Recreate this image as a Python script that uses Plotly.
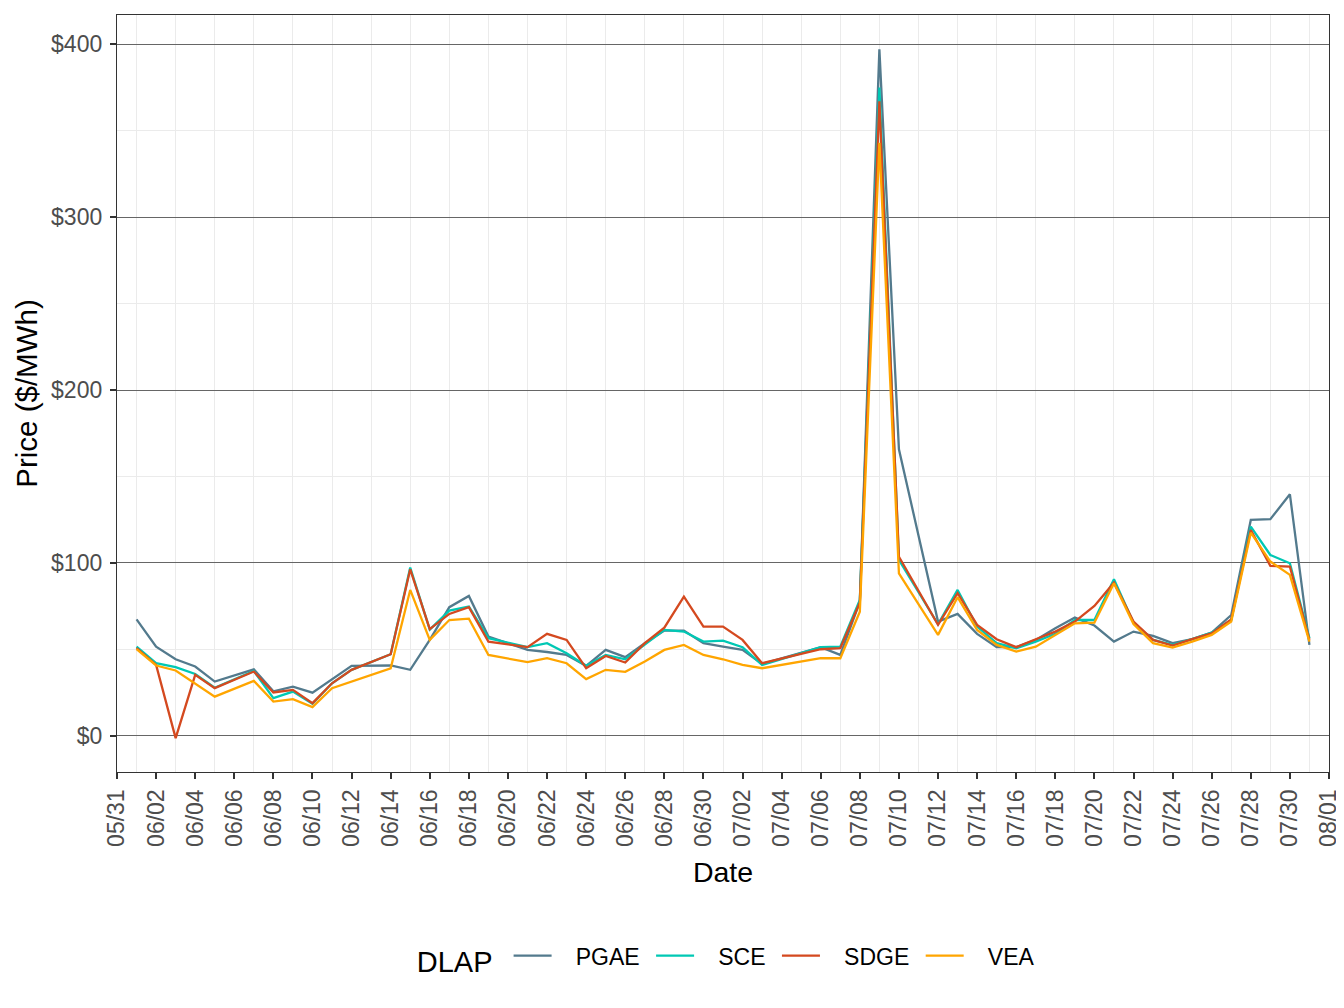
import plotly.graph_objects as go
import datetime as dt

YEAR = 2023
# dates with observations (MM/DD)
dates_md = ["06/01", "06/02", "06/03", "06/04", "06/05", "06/07", "06/08", "06/09", "06/10",
            "06/11", "06/12", "06/14", "06/15", "06/16", "06/17", "06/18", "06/19", "06/21",
            "06/22", "06/23", "06/24", "06/25", "06/26", "06/27", "06/28", "06/29", "06/30",
            "07/01", "07/02", "07/03", "07/06", "07/07", "07/08", "07/09", "07/10", "07/12",
            "07/13", "07/14", "07/15", "07/16", "07/17", "07/18", "07/19", "07/20", "07/21",
            "07/22", "07/23", "07/24", "07/25", "07/26", "07/27", "07/28", "07/29", "07/30",
            "07/31"]

pgae = [67.4, 51.6, 44.3, 40.1, 31.4, 38.5, 25.8, 28.5, 25.0, 32.5, 40.5, 40.7, 38.2, 55.5,
        74.4, 80.9, 57.4, 49.7, 48.5, 46.8, 40.5, 49.7, 45.5, 53.6, 60.9, 60.9, 53.6, 51.6,
        49.7, 41.6, 51.3, 46.8, 77.6, 397.0, 165.7, 66.1, 70.5, 59.0, 51.3, 51.3, 55.5, 62.2,
        68.4, 63.8, 54.5, 60.3, 57.8, 53.6, 55.9, 59.7, 69.9, 124.9, 125.3, 139.7, 52.6]

sce = [51.6, 42.0, 39.7, 35.8, 27.8, 37.5, 21.8, 25.6, 18.6, 30.4, 38.2, 47.2, 97.3, 61.5,
       72.4, 74.8, 56.5, 51.3, 53.6, 47.8, 40.5, 46.8, 44.3, 52.6, 61.3, 60.3, 54.5, 55.1,
       51.3, 41.0, 51.3, 51.6, 78.6, 375.0, 101.7, 64.5, 84.4, 63.2, 53.6, 50.7, 54.5, 59.0,
       67.0, 67.0, 90.6, 65.5, 55.5, 52.6, 55.9, 59.7, 67.0, 121.0, 104.6, 99.8, 56.5]

sdge = [50.7, 41.0, -1.3, 35.3, 27.6, 37.2, 25.1, 26.6, 18.9, 30.4, 38.2, 47.2, 96.3, 61.7,
        70.5, 74.4, 54.5, 51.3, 59.0, 55.5, 39.1, 46.2, 42.4, 53.6, 62.6, 80.5, 63.2, 63.2,
        55.5, 42.0, 50.1, 50.7, 77.1, 367.0, 103.6, 64.2, 82.5, 64.2, 55.9, 51.3, 55.9, 60.3,
        66.1, 75.1, 88.6, 66.1, 55.5, 52.2, 55.9, 59.3, 67.4, 119.1, 98.3, 97.9, 55.5]

vea = [50.1, 40.7, 37.8, 30.4, 22.7, 31.8, 19.8, 21.2, 16.6, 27.6, 31.5, 39.1, 84.4, 55.5,
       67.0, 67.8, 46.8, 42.6, 44.9, 42.0, 32.8, 38.2, 37.0, 43.0, 49.7, 52.6, 46.8, 44.3,
       41.0, 39.1, 44.9, 44.9, 71.8, 343.0, 94.0, 58.4, 80.2, 61.3, 52.6, 48.7, 51.6, 58.4,
       65.1, 65.5, 88.2, 64.7, 53.6, 51.1, 54.5, 58.4, 66.1, 117.5, 100.8, 93.1, 54.5]

series_names = ["PGAE", "SCE", "SDGE", "VEA"]
series_vals = [pgae, sce, sdge, vea]
series_colors = ["#537A8D", "#00C8B4", "#D4491F", "#FFA500"]

y_ticks = [0, 100, 200, 300, 400]

dates = [f"{YEAR}-{md[:2]}-{md[3:]}" for md in dates_md]

start = dt.date(YEAR, 5, 31)
end = dt.date(YEAR, 8, 1)
ndays = (end - start).days
x_major = [(start + dt.timedelta(days=i)).isoformat() for i in range(0, ndays + 1, 2)]
DAY_MS = 86400000

NB = "\u00a0"
fig = go.Figure()
for name, vals, col in zip(series_names, series_vals, series_colors):
    fig.add_trace(go.Scatter(x=dates, y=vals, mode="lines", name=NB * 3 + name + NB,
                             line=dict(color=col, width=2.3)))

FONT = "Liberation Sans, Arial, sans-serif"
# the page body adds an 8px offset, so the margins are shifted to compensate
fig.update_layout(
    width=1336, height=992,
    margin=dict(l=109, r=15, t=7, b=228),
    paper_bgcolor="white", plot_bgcolor="white",
    font=dict(family=FONT, color="black"),
    showlegend=True,
    legend=dict(orientation="h", x=0.506, xanchor="center", y=-0.246, yanchor="middle",
                title=dict(text="DLAP" + NB, side="left", font=dict(size=29, color="black")),
                font=dict(size=23, color="black"), itemwidth=38,
                bgcolor="rgba(0,0,0,0)"),
)
fig.update_xaxes(
    type="date", range=[start.isoformat(), end.isoformat() + " 00:00:30"], automargin=False,
    tickmode="array", tickvals=x_major, tickformat="%m/%d", tickangle=-90,
    tickfont=dict(size=23, color="#4D4D4D"), ticklabelstandoff=1,
    ticks="outside", ticklen=6, tickwidth=1.5, tickcolor="#333333",
    showgrid=False, zeroline=False,
    showline=True, mirror=True, linecolor="#333333", linewidth=1.3,
    minor=dict(tick0=f"{YEAR}-06-01", dtick=2 * DAY_MS, showgrid=True, gridcolor="#EBEBEB",
               gridwidth=1.2, ticks=""),
    title=dict(text="Date", font=dict(size=28.5, color="black"), standoff=16),
)
fig.update_yaxes(
    range=[-20.9, 416.9], automargin=False,
    tickmode="array", tickvals=y_ticks, ticktext=[f"${v}" for v in y_ticks],
    tickfont=dict(size=23, color="#4D4D4D"), ticklabelstandoff=3,
    ticks="outside", ticklen=6, tickwidth=1.5, tickcolor="#333333",
    showgrid=True, gridcolor="#666666", gridwidth=0.8, zeroline=False,
    showline=True, mirror=True, linecolor="#333333", linewidth=1.3,
    minor=dict(tick0=50, dtick=100, showgrid=True, gridcolor="#EBEBEB",
               gridwidth=1.2, ticks=""),
    title=dict(text="Price ($/MWh)", font=dict(size=29.5, color="black"), standoff=4),
)

fig.write_html("out.html")
